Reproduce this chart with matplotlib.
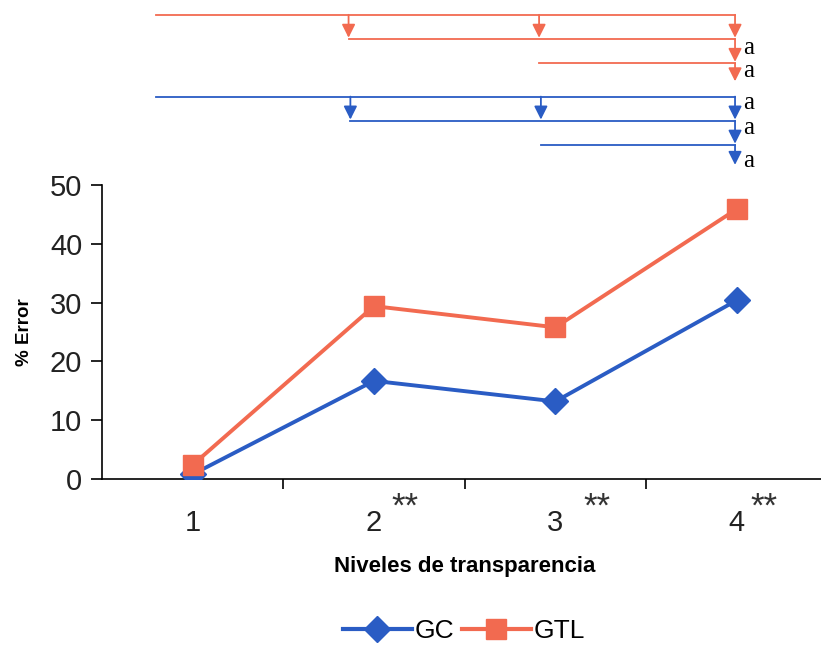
import numpy as np
import matplotlib.pyplot as plt
from matplotlib.lines import Line2D

# -------------------------------------------------------
# DATA
# -------------------------------------------------------

niveles = [1, 2, 3, 4]
tick_labels = ["1", "2", "3", "4"]
stars = ["", "**", "**", "**"]
gc = [0.8, 16.7, 13.2, 30.4]
gtl = [2.4, 29.4, 25.8, 45.9]

blue = "#2a5cc4"
red = "#f26a50"

# comparison brackets above the plot: (x_start, arrow positions, level)
red_rows = [(0.8, [1.86, 2.91, 3.99], 78.9),
            (1.86, [3.99], 74.8),
            (2.91, [3.99], 70.7)]
blue_rows = [(0.8, [1.87, 2.92, 3.99], 65.0),
             (1.87, [3.99], 60.9),
             (2.92, [3.99], 56.8)]
a_levels = [73.3, 69.4, 63.9, 59.7, 54.1]

# -------------------------------------------------------
# PLOT
# -------------------------------------------------------

plt.rcParams['font.family'] = ['Liberation Sans', 'DejaVu Sans']

fig = plt.figure(figsize=(8.21, 6.51), dpi=100)
ax = fig.add_axes([0.124, 0.264, 0.884, 0.452])

ax.plot(niveles, gc, color=blue, lw=2.8, marker="D", markersize=13,
        markeredgecolor=blue, label="GC", zorder=3)
ax.plot(niveles, gtl, color=red, lw=2.8, marker="s", markersize=15,
        markeredgecolor=red, label="GTL", zorder=3)

ax.set_xlim(0.5, 4.5)
ax.set_ylim(0, 50)
ax.set_yticks([0, 10, 20, 30, 40, 50])
ax.tick_params(axis="y", labelsize=21, length=8, width=1.2, direction="out",
               pad=6, labelcolor="#222222")
ax.set_xticks([1.5, 2.5, 3.5])
ax.set_xticklabels([])
ax.tick_params(axis="x", length=7, width=1.2, direction="out")

star_dx = [0, 0.17, 0.23, 0.15]
for x, lab, st, dx in zip(niveles, tick_labels, stars, star_dx):
    ax.text(x, -5.1, lab, ha="center", va="top", fontsize=21,
            color="#222222")
    if st:
        ax.text(x + dx, -2.0, st, ha="center", va="top", fontsize=25,
                color="#333333")

for side in ["top", "right"]:
    ax.spines[side].set_visible(False)
ax.spines["left"].set_linewidth(1.2)
ax.spines["bottom"].set_linewidth(1.2)

ax.set_xlabel("Niveles de transparencia", fontsize=16, fontweight="bold",
              labelpad=45)
ax.set_ylabel("% Error", fontsize=13.5, fontweight="bold", labelpad=12)


def draw_rows(rows, color, end_level):
    levels = [r[2] for r in rows] + [end_level]
    for i, (x0, arrows, y) in enumerate(rows):
        ax.plot([x0, max(arrows)], [y, y], color=color, lw=1.3,
                clip_on=False)
        for xa in arrows:
            ax.annotate("", xy=(xa, levels[i + 1] + 0.2), xytext=(xa, y),
                        arrowprops=dict(arrowstyle="-|>", color=color,
                                        lw=1.3, mutation_scale=20,
                                        shrinkA=0, shrinkB=0),
                        annotation_clip=False)


draw_rows(red_rows, red, 67.4)
draw_rows(blue_rows, blue, 53.2)

for y in a_levels:
    ax.text(4.035, y, "a", fontsize=18, family="Liberation Serif",
            va="center", ha="left", clip_on=False)

handles = [Line2D([], [], color=blue, lw=3, marker="D", markersize=13),
           Line2D([], [], color=red, lw=3, marker="s", markersize=14)]
fig.legend(handles, ["GC", "GTL"], loc="center", bbox_to_anchor=(0.565, 0.03),
           ncol=2, frameon=False, fontsize=19, handlelength=2.6,
           columnspacing=0.3, handletextpad=0.1)

fig.savefig("out.png", dpi=100)
